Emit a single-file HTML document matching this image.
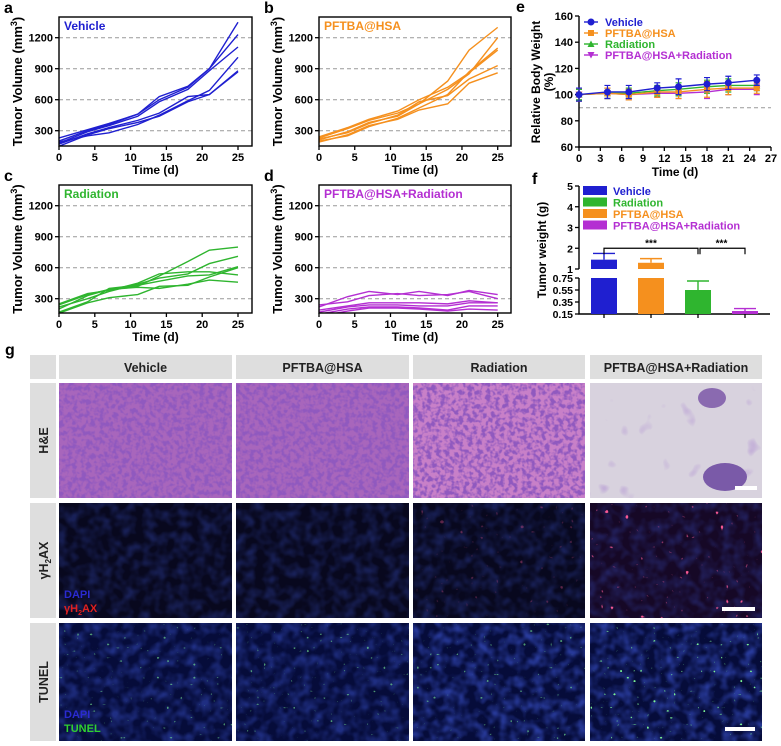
<!DOCTYPE html>
<html><head><meta charset="utf-8"><style>
html,body{margin:0;padding:0;background:#fff;}
svg{display:block;font-family:"Liberation Sans",Arial,sans-serif;font-weight:bold;}
</style></head><body>
<svg id="fig" width="781" height="746" viewBox="0 0 781 746" xmlns="http://www.w3.org/2000/svg">
<defs>
<filter id="heTex" x="0" y="0" width="1" height="1">
 <feTurbulence type="fractalNoise" baseFrequency="0.22" numOctaves="2" seed="3"/>
 <feColorMatrix type="matrix" values="0 0 0 0 0.28  0 0 0 0 0.1  0 0 0 0 0.52  4.2 0 0 0 -1.75"/>
</filter>
<filter id="heLight" x="0" y="0" width="1" height="1">
 <feTurbulence type="fractalNoise" baseFrequency="0.05" numOctaves="2" seed="7"/>
 <feColorMatrix type="matrix" values="0 0 0 0 0.45  0 0 0 0 0.3  0 0 0 0 0.65  4 0 0 0 -2.7"/>
</filter>
<filter id="dapiTex" x="0" y="0" width="1" height="1">
 <feTurbulence type="fractalNoise" baseFrequency="0.09" numOctaves="2" seed="5"/>
 <feColorMatrix type="matrix" values="0 0 0 0 0.05  0 0 0 0 0.1  0 0 0 0 0.7  2.2 0 0 0 -0.8"/>
</filter>
<filter id="greenDots" x="0" y="0" width="1" height="1">
 <feTurbulence type="fractalNoise" baseFrequency="0.3" numOctaves="1" seed="11"/>
 <feColorMatrix type="matrix" values="0 0 0 0 0.2  0 0 0 0 0.9  0 0 0 0 0.3  16 0 0 0 -11.6"/>
</filter>
<filter id="redDots" x="0" y="0" width="1" height="1">
 <feTurbulence type="fractalNoise" baseFrequency="0.2" numOctaves="1" seed="21"/>
 <feColorMatrix type="matrix" values="0 0 0 0 0.95  0 0 0 0 0.1  0 0 0 0 0.3  16 0 0 0 -11.4"/>
</filter>
<clipPath id="clipA"><rect x="59" y="17" width="193" height="129"/></clipPath>
<clipPath id="clipB"><rect x="319" y="17" width="192" height="129"/></clipPath>
<clipPath id="clipC"><rect x="59" y="185" width="193" height="128"/></clipPath>
<clipPath id="clipD"><rect x="319" y="185" width="192" height="128"/></clipPath>
</defs>
<g id="charts"></g>
<g id="grid"></g>
</svg>
<script>
const days=[0,4,7,11,14,18,21,25];
const volTicks=[300,600,900,1200];
const dayTicks=[0,5,10,15,20,25];
const vehicleSeries=[
[200,300,360,460,630,730,900,1350],
[230,310,370,460,600,720,900,1230],
[180,290,350,440,580,700,880,1110],
[170,270,330,400,470,630,650,880],
[190,250,280,360,450,590,690,1010],
[150,260,320,380,440,580,650,870]];
const pftbaSeries=[
[230,320,400,470,560,780,1080,1300],
[210,290,380,440,560,700,850,1200],
[200,250,340,420,520,650,870,1100],
[240,330,410,490,600,720,860,1080],
[220,280,370,450,580,640,800,930],
[190,260,350,410,500,560,760,860]];
const radiationSeries=[
[240,340,390,420,520,660,770,800],
[220,300,370,440,500,540,640,710],
[170,270,400,430,470,520,530,610],
[160,260,310,340,420,430,510,600],
[250,350,380,450,540,560,560,530],
[200,330,390,410,400,440,480,460]];
const comboSeries=[
[220,320,370,340,370,330,380,340],
[240,270,330,350,330,340,370,300],
[190,230,260,260,260,250,280,260],
[170,220,240,240,230,230,260,260],
[150,200,220,220,210,190,230,230],
[130,180,210,210,200,180,200,190]];

const bwDays=[0,4,7,11,14,18,21,25];
const bwVehicle=[100,102,102,105,106,108,109,111];
const bwVehicleErr=[5,5,5,4,6,5,5,4];
const bwPftba=[100,101,100,102,102,104,105,105];
const bwPftbaErr=[5,4,4,4,5,6,5,4];
const bwRadiation=[100,101,101,103,104,106,107,107];
const bwRadiationErr=[4,4,4,4,5,5,5,4];
const bwCombo=[100,101,100,101,101,102,104,104];
const bwComboErr=[4,4,4,3,4,5,4,4];
const bwTicksY=[60,80,100,120,140,160];
const bwTicksX=[0,3,6,9,12,15,18,21,24,27];

const weightGroups=['Vehicle','PFTBA@HSA','Radiation','PFTBA@HSA+Radiation'];
const weightMeans=[1.45,1.3,0.55,0.2];
const weightErr=[0.3,0.2,0.15,0.04];
const weightTicks=[0.15,0.35,0.55,0.75,1,2,3,4,5];

const NS='http://www.w3.org/2000/svg';
const root=document.getElementById('charts');
function mk(tag,attrs,parent,txt){const e=document.createElementNS(NS,tag);for(const k in attrs)e.setAttribute(k,attrs[k]);if(txt!==undefined)e.textContent=txt;(parent||root).appendChild(e);return e;}

const BLUE='#1f1fd0',ORANGE='#f5901e',GREEN='#2fb52f',PURPLE='#b42fd2';

function volPanel(name,x0,x1,y300,top,bottom,right,series,color,title,letter,lx,showTime,clip){
  const g=mk('g',{});
  
  
  const xs=v=>x0+(v/25)*(x1-x0);
  const ys=v=>y300-(v-300)*(31/300);
  const left=x0;
  volTicks.forEach(t=>{
    const l=mk('line',{x1:left,x2:right,y1:ys(t),y2:ys(t),stroke:'#999','stroke-width':1,'stroke-dasharray':'4,3'},g);
    
    
    const tk=mk('line',{x1:left-4,x2:left,y1:ys(t),y2:ys(t),stroke:'#000','stroke-width':1.3},g);
    
    
    const tl=mk('text',{x:left-6,y:ys(t)+4,'font-size':11,'text-anchor':'end'},g,String(t));
    
    
  });
  dayTicks.forEach(t=>{
    const tk=mk('line',{x1:xs(t),x2:xs(t),y1:bottom,y2:bottom+4,stroke:'#000','stroke-width':1.3},g);
    
    
    const tl=mk('text',{x:xs(t),y:bottom+15,'font-size':11,'text-anchor':'middle'},g,String(t));
    
    
  });
  const lg=mk('g',{'clip-path':'url(#'+clip+')'},g);
  series.forEach(s=>{
    const p=mk('polyline',{points:s.map((v,i)=>xs(days[i])+','+ys(v)).join(' '),fill:'none',stroke:color,'stroke-width':1.4},lg);
    
    
  });
  const box=mk('rect',{x:left,y:top,width:right-left,height:bottom-top,fill:'none',stroke:'#000','stroke-width':1.4},g);
  
  
  const t=mk('text',{x:left+5,y:top+13,'font-size':12,fill:color},g,title);
  
  
  const yt=mk('text',{transform:'translate('+(left-37)+','+((top+bottom)/2)+') rotate(-90)','font-size':13,'text-anchor':'middle'},g);
  
  
  yt.innerHTML='Tumor Volume (mm<tspan font-size="9" dy="-5">3</tspan><tspan dy="5">)</tspan>';
  if(showTime){
    const xt=mk('text',{x:(left+right)/2,y:bottom+28,'font-size':12,'text-anchor':'middle'},g,'Time (d)');
    
    
  }
  const pl=mk('text',{x:lx,y:top-4,'font-size':16},g,letter);
  
  
}
volPanel('panel-a-vehicle',59,238,130.7,17,146,252,vehicleSeries,BLUE,'Vehicle','a',4,true,'clipA');
volPanel('panel-b-pftba',319,497.7,130.7,17,146,511,pftbaSeries,ORANGE,'PFTBA@HSA','b',264,true,'clipB');
volPanel('panel-c-radiation',59,238,298.7,185,313,252,radiationSeries,GREEN,'Radiation','c',4,true,'clipC');
volPanel('panel-d-combo',319,497.7,298.7,185,313,511,comboSeries,PURPLE,'PFTBA@HSA+Radiation','d',264,true,'clipD');

// Panel e
(function(){
  const g=mk('g',{});
  
  
  const X0=579,X1=771,Ytop=16,Ybot=147;
  const xs=v=>X0+(v/27)*(X1-X0);
  const ys=v=>Ybot-(v-60)/100*(Ybot-Ytop);
  const dl=mk('line',{x1:X0,x2:X1,y1:ys(90),y2:ys(90),stroke:'#999','stroke-width':1,'stroke-dasharray':'4,3'},g);
  
  
  const ax=mk('path',{d:'M'+X0+' '+Ytop+' V'+Ybot+' H'+X1,fill:'none',stroke:'#000','stroke-width':1.4},g);
  
  
  bwTicksY.forEach(t=>{
    const tk=mk('line',{x1:X0-4,x2:X0,y1:ys(t),y2:ys(t),stroke:'#000','stroke-width':1.3},g);
    
    
    const tl=mk('text',{x:X0-6,y:ys(t)+4,'font-size':11,'text-anchor':'end'},g,String(t));
    
    
  });
  bwTicksX.forEach(t=>{
    const tk=mk('line',{x1:xs(t),x2:xs(t),y1:Ybot,y2:Ybot+4,stroke:'#000','stroke-width':1.3},g);
    
    
    const tl=mk('text',{x:xs(t),y:Ybot+15,'font-size':11,'text-anchor':'middle'},g,String(t));
    
    
  });
  const sets=[[bwCombo,bwComboErr,PURPLE,'tridown'],[bwRadiation,bwRadiationErr,GREEN,'tri'],[bwPftba,bwPftbaErr,ORANGE,'sq'],[bwVehicle,bwVehicleErr,BLUE,'circ']];
  function marker(shape,x,y,c,parent){
    let m;
    if(shape==='circ')m=mk('circle',{cx:x,cy:y,r:3.5,fill:c},parent);
    else if(shape==='sq')m=mk('rect',{x:x-3,y:y-3,width:6,height:6,fill:c},parent);
    else if(shape==='tri')m=mk('path',{d:'M'+x+' '+(y-3.5)+' L'+(x+3.5)+' '+(y+3)+' L'+(x-3.5)+' '+(y+3)+'Z',fill:c},parent);
    else m=mk('path',{d:'M'+x+' '+(y+3.5)+' L'+(x+3.5)+' '+(y-3)+' L'+(x-3.5)+' '+(y-3)+'Z',fill:c},parent);
    return m;
  }
  sets.forEach(([vals,errs,c,shape])=>{
    const sg=mk('g',{},g);
    
    
    vals.forEach((v,i)=>{
      const x=xs(bwDays[i]);
      const e=mk('path',{d:'M'+x+' '+ys(v-errs[i])+' V'+ys(v+errs[i])+' M'+(x-3)+' '+ys(v-errs[i])+' H'+(x+3)+' M'+(x-3)+' '+ys(v+errs[i])+' H'+(x+3),stroke:c,'stroke-width':1.2,fill:'none'},sg);
      
      
    });
    const p=mk('polyline',{points:vals.map((v,i)=>xs(bwDays[i])+','+ys(v)).join(' '),fill:'none',stroke:c,'stroke-width':1.4},sg);
    
    
    vals.forEach((v,i)=>{
      const m=marker(shape,xs(bwDays[i]),ys(v),c,sg);
      
      
    });
  });
  const leg=[['Vehicle',BLUE,'circ'],['PFTBA@HSA',ORANGE,'sq'],['Radiation',GREEN,'tri'],['PFTBA@HSA+Radiation',PURPLE,'tridown']];
  leg.forEach((l,i)=>{
    const y=22+i*11;
    const lg=mk('g',{},g);
    
    
    mk('line',{x1:584,x2:598,y1:y,y2:y,stroke:l[1],'stroke-width':1.4},lg);
    marker(l[2],591,y,l[1],lg);
    mk('text',{x:605,y:y+4,'font-size':11,fill:l[1]},lg,l[0]);
  });
  const yt=mk('text',{transform:'translate(540,82) rotate(-90)','font-size':12,'text-anchor':'middle'},g,'Relative Body Weight');
  
  
  const yt2=mk('text',{transform:'translate(553,82) rotate(-90)','font-size':12,'text-anchor':'middle'},g,'(%)');
  
  
  const xt=mk('text',{x:675,y:176,'font-size':12,'text-anchor':'middle'},g,'Time (d)');
  
  
  const pl=mk('text',{x:516,y:12,'font-size':16},g,'e');
  
  
})();

// Panel f
(function(){
  const g=mk('g',{});
  
  
  const X0=579,X1=770;
  const ys=v=>v>=1?269-(v-1)*20.75:314-(v-0.15)*60;
  const colors=[BLUE,ORANGE,GREEN,PURPLE];
  const step=47,c0=604,bw=26;
  const ax=mk('path',{d:'M'+X0+' '+ys(5)+' V'+ys(1)+' M'+X0+' '+ys(0.75)+' V314 H'+X1,fill:'none',stroke:'#000','stroke-width':1.4},g);
  
  
  weightTicks.forEach(t=>{
    const tk=mk('line',{x1:X0-4,x2:X0,y1:ys(t),y2:ys(t),stroke:'#000','stroke-width':1.3},g);
    
    
    const tl=mk('text',{x:X0-6,y:ys(t)+4,'font-size':10.5,'text-anchor':'end'},g,String(t));
    
    
  });
  weightGroups.forEach((gname,i)=>{
    const cx=c0+i*step;
    const tk=mk('line',{x1:cx,x2:cx,y1:314,y2:318,stroke:'#000','stroke-width':1.3},g);
    
    
    const v=weightMeans[i];
    const bg=mk('g',{},g);
    
    
    const top=Math.min(v,0.75);
    mk('rect',{x:cx-bw/2,y:ys(top),width:bw,height:314-ys(top),fill:colors[i]},bg);
    if(v>=1){mk('rect',{x:cx-bw/2,y:ys(v),width:bw,height:ys(1)-ys(v),fill:colors[i]},bg);}
    const e=v+weightErr[i];
    const eb=mk('path',{d:'M'+cx+' '+ys(v)+' V'+ys(e)+' M'+(cx-bw/2+2)+' '+ys(e)+' H'+(cx+bw/2-2),stroke:colors[i],'stroke-width':1.4,fill:'none'},g);
    
    
  });
  const y2=ys(2);
  const br=mk('path',{d:'M'+c0+' '+(y2+6)+' V'+y2+' H'+(c0+2*step)+' V'+(y2+6)+' M'+(c0+2*step+2)+' '+(y2+6)+' V'+y2+' H'+(c0+3*step)+' V'+(y2+6),fill:'none',stroke:'#000','stroke-width':1.2},g);
  
  
  const s1=mk('text',{x:c0+step,y:y2-2,'font-size':10,'text-anchor':'middle'},g,'***');
  
  
  const s2=mk('text',{x:c0+2.5*step,y:y2-2,'font-size':10,'text-anchor':'middle'},g,'***');
  
  
  const leg=[['Vehicle',BLUE],['Radiation',GREEN],['PFTBA@HSA',ORANGE],['PFTBA@HSA+Radiation',PURPLE]];
  leg.forEach((l,i)=>{
    const y=186+i*11.5;
    const lg=mk('g',{},g);
    
    
    mk('rect',{x:583,y:y,width:24,height:9,fill:l[1]},lg);
    mk('text',{x:613,y:y+9,'font-size':11,fill:l[1]},lg,l[0]);
  });
  const yt=mk('text',{transform:'translate(546,250) rotate(-90)','font-size':12,'text-anchor':'middle'},g,'Tumor weight (g)');
  
  
  const pl=mk('text',{x:532,y:184,'font-size':16},g,'f');
  
  
})();

// Panel g image grid
(function(){
  const g=document.getElementById('grid');
  function add(tag,attrs,parent,txt){const e=document.createElementNS(NS,tag);for(const k in attrs)e.setAttribute(k,attrs[k]);if(txt!==undefined)e.textContent=txt;parent.appendChild(e);return e;}
  const pl=add('text',{x:5,y:355,'font-size':16},g,'g');
  
  
  const cols=[[59,232],[236,409],[413,585],[590,762]];
  const colNames=['Vehicle','PFTBA@HSA','Radiation','PFTBA@HSA+Radiation'];
  const rows=[[383,498],[503,618],[623,741]];
  const corner=add('rect',{x:30,y:355,width:26,height:24,fill:'#dedede'},g);
  
  
  cols.forEach((c,i)=>{
    const h=add('rect',{x:c[0],y:355,width:c[1]-c[0],height:24,fill:'#dedede'},g);
    
    
    const t=add('text',{x:(c[0]+c[1])/2,y:372,'font-size':12.5,'text-anchor':'middle',fill:'#222'},g,colNames[i]);
    
    
  });
  const rowLabels=['H&E','γH2AX','TUNEL'];
  rows.forEach((r,j)=>{
    const b=add('rect',{x:30,y:r[0],width:26,height:r[1]-r[0],fill:'#dedede'},g);
    
    
    const t=add('text',{transform:'translate(48,'+((r[0]+r[1])/2)+') rotate(-90)','font-size':12.5,'text-anchor':'middle',fill:'#222'},g);
    
    
    if(j===1){t.innerHTML='γH<tspan font-size="8" dy="3">2</tspan><tspan dy="-3">AX</tspan>';}else{t.textContent=rowLabels[j];}
    cols.forEach((c,i)=>{
      const w=c[1]-c[0],h=r[1]-r[0];
      const ig=add('g',{},g);
      
      
      if(j===0){
        if(i<3){
          add('rect',{x:c[0],y:r[0],width:w,height:h,fill:i===2?'#c880c8':'#a866bc'},ig);
          add('rect',{x:c[0],y:r[0],width:w,height:h,filter:'url(#heTex)'},ig);
        } else {
          add('rect',{x:c[0],y:r[0],width:w,height:h,fill:'#d8d2de'},ig);
          add('rect',{x:c[0],y:r[0],width:w,height:h,filter:'url(#heLight)'},ig);
          add('ellipse',{cx:712,cy:398,rx:14,ry:10,fill:'#8a6ab0'},ig);
          add('ellipse',{cx:725,cy:477,rx:22,ry:14,fill:'#7a5aa8'},ig);
          add('rect',{x:735,y:486,width:22,height:4,fill:'#fff'},ig);
        }
      } else if(j===1){
        add('rect',{x:c[0],y:r[0],width:w,height:h,fill:i===3?'#160826':'#08081e'},ig);
        add('rect',{x:c[0],y:r[0],width:w,height:h,filter:'url(#dapiTex)',opacity:0.3},ig);
        if(i>=2)add('rect',{x:c[0],y:r[0],width:w,height:h,filter:'url(#redDots)',opacity:i===3?1:0.35},ig);
        if(i===3)add('rect',{x:722,y:607,width:33,height:4,fill:'#fff'},ig);
      } else {
        add('rect',{x:c[0],y:r[0],width:w,height:h,fill:'#060c3a'},ig);
        add('rect',{x:c[0],y:r[0],width:w,height:h,filter:'url(#dapiTex)',opacity:i>=2?0.6:0.45},ig);
        add('rect',{x:c[0],y:r[0],width:w,height:h,filter:'url(#greenDots)',opacity:i===3?1:0.6},ig);
        if(i===3)add('rect',{x:725,y:727,width:30,height:4,fill:'#fff'},ig);
      }
    });
  });
  const d1=add('text',{x:64,y:598,'font-size':11,fill:'#2a2ad0'},g,'DAPI');
  
  
  const d2=add('text',{x:64,y:612,'font-size':11,fill:'#e02020'},g);
  
  
  d2.innerHTML='γH<tspan font-size="7" dy="3">2</tspan><tspan dy="-3">AX</tspan>';
  const d3=add('text',{x:64,y:718,'font-size':11,fill:'#2a2ad0'},g,'DAPI');
  
  
  const d4=add('text',{x:64,y:732,'font-size':11,fill:'#30d030'},g,'TUNEL');
  
  
})();
</script>
</body></html>
